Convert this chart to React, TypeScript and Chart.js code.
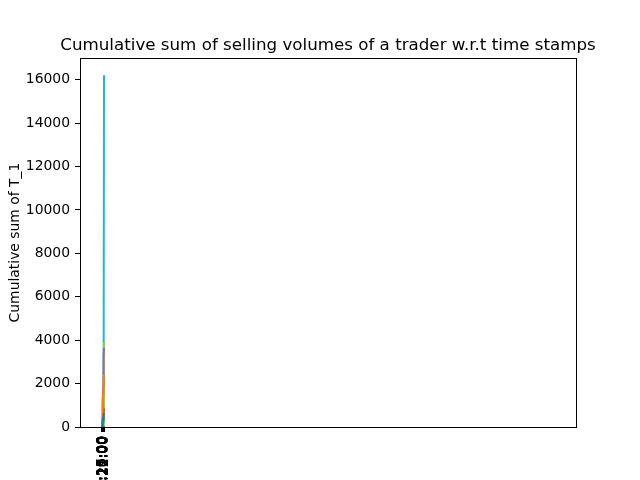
import React, { useEffect, useRef } from "react";
import { Chart, registerables } from "chart.js";

Chart.register(...registerables);

const timeStamps = ["10:15:00", "10:16:00", "10:17:00", "10:18:00", "10:19:00", "10:20:00", "10:21:00", "10:22:00"];
const traders = ["T_1", "T_2", "T_3", "T_4", "T_5", "T_6", "T_7", "T_8", "T_9", "T_10"];
const colors = ["#1f77b4", "#ff7f0e", "#2ca02c", "#d62728", "#9467bd", "#8c564b", "#e377c2", "#7f7f7f", "#bcbd22", "#17becf"];
const t1 = [0, 50, 120, 250, 400, 520, 600, 650];
const t2 = [0, 100, 700, 1100, 1500, 1900, 2300, 2400];
const t3 = [0, 30, 80, 160, 260, 330, 400, 450];
const t4 = [0, 80, 200, 350, 500, 640, 760, 850];
const t5 = [0, 200, 600, 1100, 1900, 2700, 3300, 3650];
const t6 = [0, 5, 10, 20, 30, 40, 50, 60];
const t7 = [0, 10, 20, 30, 40, 50, 60, 70];
const t8 = [0, 5, 10, 15, 20, 25, 30, 35];
const t9 = [0, 0, 0, 0, 0, 0, 200, 3900];
const t10 = [0, 0, 0, 0, 0, 0, 100, 16200];
const seriesValues = [t1, t2, t3, t4, t5, t6, t7, t8, t9, t10];
const yTicks = [0, 2000, 4000, 6000, 8000, 10000, 12000, 14000, 16000];

const titleText = "Cumulative sum of selling volumes of a trader w.r.t time stamps";
const yLabel = "Cumulative sum of T_1";
const FONT = "DejaVu Sans";

const framePlugin = {
  id: "frame",
  afterDraw(chart: any) {
    const { ctx, chartArea } = chart;
    ctx.save();
    ctx.strokeStyle = "#000";
    ctx.lineWidth = 1;
    ctx.strokeRect(Math.round(chartArea.left) + 0.5, Math.round(chartArea.top) + 0.5, Math.round(chartArea.right - chartArea.left), Math.round(chartArea.bottom - chartArea.top));
    ctx.fillStyle = "#000";
    ctx.font = `16.7px "${FONT}"`;
    ctx.textAlign = "center";
    ctx.textBaseline = "alphabetic";
    ctx.fillText(titleText, (chartArea.left + chartArea.right) / 2, 50);
    ctx.translate(19, (chartArea.top + chartArea.bottom) / 2);
    ctx.rotate(-Math.PI / 2);
    ctx.font = `13.9px "${FONT}"`;
    ctx.fillText(yLabel, 0, 0);
    ctx.restore();
  },
};

export default function App() {
  const ref = useRef<HTMLCanvasElement>(null);
  useEffect(() => {
    if (!ref.current) return;
    const chart = new Chart(ref.current, {
      type: "line",
      data: {
        datasets: traders.map((name, k) => ({
          label: name,
          data: seriesValues[k].map((v, i) => ({ x: i, y: v })),
          borderColor: colors[k],
          backgroundColor: colors[k],
          borderWidth: 2,
          pointRadius: 0,
          fill: false,
          tension: 0,
        })),
      },
      options: {
        animation: false,
        responsive: false,
        layout: { padding: { top: 58, right: 64, left: 0, bottom: 0 } },
        plugins: { legend: { display: false }, tooltip: { enabled: false }, title: { display: false } },
        scales: {
          x: {
            type: "linear",
            min: -73,
            max: 1580,
            afterBuildTicks: (scale: any) => {
              scale.ticks = timeStamps.map((_, i) => ({ value: i }));
            },
            afterFit: (scale: any) => {
              scale.height = 53;
            },
            ticks: {
              autoSkip: false,
              minRotation: 90,
              maxRotation: 90,
              padding: 4,
              color: "#000",
              font: { family: FONT, size: 13.9 },
              callback: (v: any) => timeStamps[v] ?? "",
            },
            grid: { drawOnChartArea: false, drawTicks: true, tickLength: 5, color: "#000", lineWidth: 1 },
            border: { display: false },
          },
          y: {
            type: "linear",
            min: 0,
            max: 17000,
            afterBuildTicks: (scale: any) => {
              scale.ticks = yTicks.map((v) => ({ value: v }));
            },
            afterFit: (scale: any) => {
              scale.width = 80;
            },
            ticks: {
              padding: 5,
              color: "#000",
              font: { family: FONT, size: 13.9 },
              callback: (v: any) => String(v),
            },
            grid: { drawOnChartArea: false, drawTicks: true, tickLength: 5, color: "#000", lineWidth: 1 },
            border: { display: false },
          },
        },
      },
      plugins: [framePlugin],
    });
    return () => chart.destroy();
  }, []);
  return (
    <div style={{ position: "absolute", left: 0, top: 0, width: 640, height: 480, background: "#fff" }}>
      <canvas ref={ref} width={640} height={480} />
    </div>
  );
}
